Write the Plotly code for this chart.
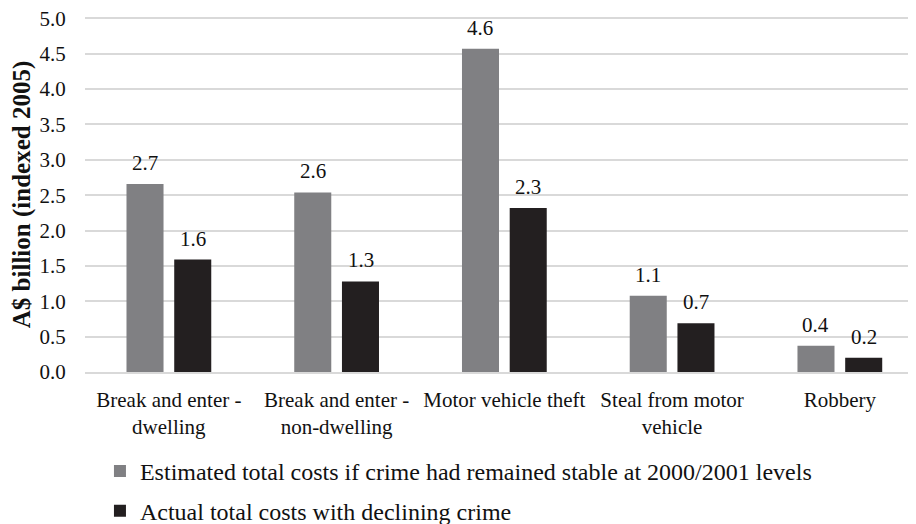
import plotly.graph_objects as go

categories = ["Break and enter -<br>dwelling", "Break and enter -<br>non-dwelling",
              "Motor vehicle theft", "Steal from motor<br>vehicle", "Robbery"]
stable_values = [2.66, 2.54, 4.57, 1.08, 0.37]
stable_labels = ["2.7", "2.6", "4.6", "1.1", "0.4"]
actual_values = [1.59, 1.28, 2.32, 0.69, 0.20]
actual_labels = ["1.6", "1.3", "2.3", "0.7", "0.2"]
series_names = ["Estimated total costs if crime had remained stable at 2000/2001 levels",
                "Actual total costs with declining crime"]
y_ticks = [0, 0.5, 1.0, 1.5, 2.0, 2.5, 3.0, 3.5, 4.0, 4.5, 5.0]

FONT = "Liberation Serif, Times New Roman, serif"
GRAY = "#808083"
BLACK = "#231f20"
TXT = "#111111"

fig = go.Figure()
fig.add_trace(go.Bar(x=categories, y=stable_values, name=series_names[0],
                     marker=dict(color=GRAY, line=dict(width=0)), legend="legend"))
fig.add_trace(go.Bar(x=categories, y=actual_values, name=series_names[1],
                     marker=dict(color=BLACK, line=dict(width=0)), legend="legend2"))

for cat, v, lab in zip(categories, stable_values, stable_labels):
    fig.add_annotation(x=cat, y=v, text=lab, showarrow=False, xref="x", yref="y",
                       xshift=-24, yshift=21, yanchor="middle",
                       font=dict(family=FONT, size=21, color=TXT))
for cat, v, lab in zip(categories, actual_values, actual_labels):
    fig.add_annotation(x=cat, y=v, text=lab, showarrow=False, xref="x", yref="y",
                       xshift=24, yshift=21, yanchor="middle",
                       font=dict(family=FONT, size=21, color=TXT))

fig.update_layout(
    width=908, height=516,
    margin=dict(l=77, r=0, t=9, b=152, autoexpand=False),
    paper_bgcolor="white", plot_bgcolor="white",
    barmode="group", bargap=0.431, bargroupgap=0.224,
    font=dict(family=FONT, size=21, color=TXT),
    legend=dict(x=0.018, y=-0.28, xanchor="left", yanchor="middle",
                font=dict(family=FONT, size=24, color=TXT),
                itemwidth=30, bgcolor="rgba(0,0,0,0)"),
    legend2=dict(x=0.018, y=-0.392, xanchor="left", yanchor="middle",
                 font=dict(family=FONT, size=24, color=TXT),
                 itemwidth=30, bgcolor="rgba(0,0,0,0)"),
    showlegend=True,
)
fig.update_xaxes(range=[-0.5, 4.454], showline=True, linecolor="#d9d9d9", linewidth=1.5,
                 ticks="outside", ticklen=8, tickcolor="rgba(0,0,0,0)",
                 tickfont=dict(family=FONT, size=21, color=TXT))
fig.update_yaxes(range=[0, 5.02], tickvals=y_ticks, tickformat=".1f",
                 showgrid=True, gridcolor="#d9d9d9", gridwidth=1.5, zeroline=False,
                 tickfont=dict(family=FONT, size=21, color=TXT),
                 ticks="outside", ticklen=14, tickcolor="rgba(0,0,0,0)",
                 ticklabeloverflow="allow",
                 title=dict(text="<b>A$ billion (indexed 2005)</b>", standoff=4,
                            font=dict(family=FONT, size=25, color=TXT)))

fig.write_html("out.html")
